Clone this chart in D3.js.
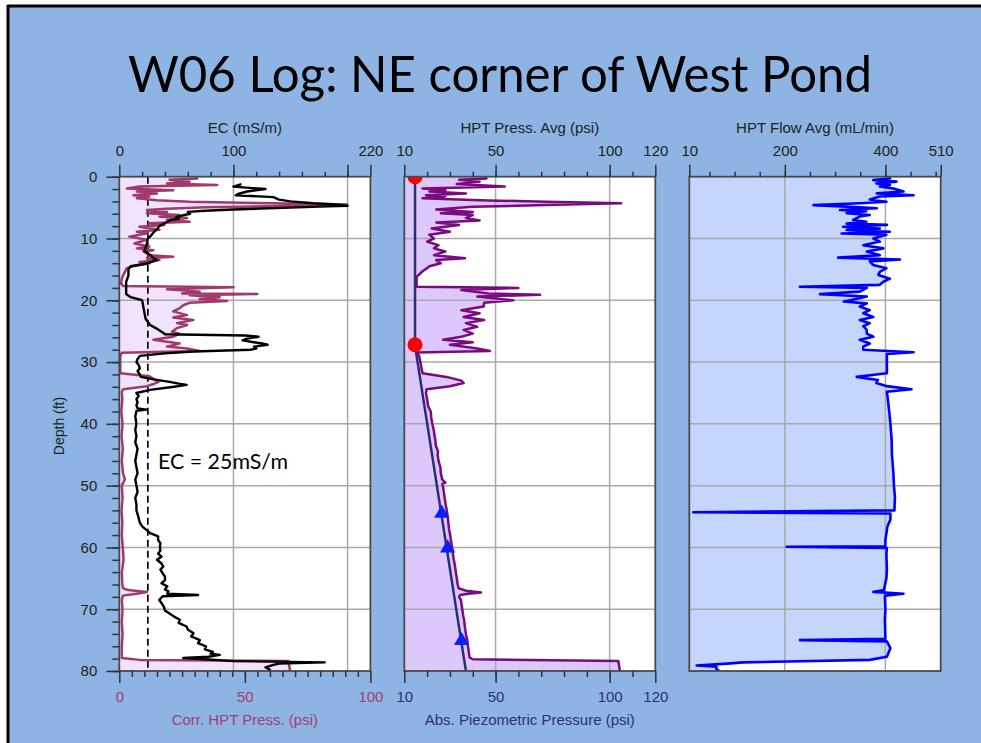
<!DOCTYPE html>
<html><head><meta charset="utf-8">
<script src="https://cdn.jsdelivr.net/npm/d3@7/dist/d3.min.js"></script>
<style>body{margin:0;background:#fff;} svg{display:block}</style>
</head><body><svg id="c" width="981" height="743"></svg>
<script>
// ---------- DATA (depth ft, value) ----------
const titleText = "W06 Log: NE corner of West Pond";
const ecData = [[1.2,107],[1.6,100],[2.0,128],[2.4,112],[2.8,104],[3.0,102],[3.3,135],[3.7,140],[4.0,150],[4.3,170],[4.5,190],[4.7,200],[4.85,175],[5.0,150],[5.3,100],[5.5,75],[5.7,60],[6.0,62],[6.2,57],[6.5,50],[6.8,52],[7.0,45],[7.5,40],[8.0,35],[8.5,33],[9.0,30],[9.5,28],[10,25],[11,24],[12,22],[12.8,28],[13.2,30],[13.5,33],[14,25],[14.5,10],[15,8],[16,8],[17,6],[18,6],[19,6],[19.5,10],[20,20],[21,21],[22,22],[23,23],[24,27],[24.5,32],[25.2,38],[25.5,40],[25.7,110],[25.9,122],[26.2,112],[26.5,108],[26.8,118],[27.0,125],[27.2,130],[27.5,118],[27.8,120],[28.0,115],[28.3,65],[28.6,40],[29.0,18],[29.5,16],[30,15],[30.5,17],[31,18],[31.5,16],[32,18],[32.4,19],[32.8,30],[33.2,44],[33.5,52],[33.7,59],[34.0,48],[34.5,27],[35.0,15],[35.5,17],[36,15],[36.5,16],[37,15],[37.5,16],[37.7,24],[37.9,15],[38.8,14],[40,15],[41,14],[42,15],[43,14],[44,16],[45,15],[46,14],[47,15],[48,16],[49,14],[50,15],[51,16],[52,14],[53,15],[54,15],[55,16.6],[56,18],[56.6,20],[57.2,24],[57.7,27],[58.2,34],[58.8,34],[59.3,36],[59.9,35.6],[60.5,36],[61,34],[61.5,37],[62,33],[62.6,37],[63.1,38.5],[63.6,36],[64.2,38],[64.7,40],[65.3,40],[65.8,37],[66.3,42],[66.8,40],[67.1,43],[67.5,42],[67.7,69],[67.9,38],[68.5,35],[69,37],[69.6,39],[70.2,40],[70.7,44],[71.2,48],[71.7,53],[72.2,52],[72.8,59],[73.3,60],[73.9,65],[74.4,63],[75,70.6],[75.5,69],[76,76],[76.5,75],[76.9,82],[77.2,80],[77.4,88],[77.7,78],[77.9,56],[78.1,75],[78.4,100],[78.6,180],[78.8,140],[79.0,135],[79.4,128],[79.8,132],[80,130]];

const corrData = [[0,30],[0.3,31],[0.5,20],[0.8,28],[1.1,19],[1.35,39],[1.6,8],[1.9,3],[2.2,21.5],[2.4,7],[2.7,15],[3.0,5.6],[3.2,12],[3.5,7],[3.8,15],[4.05,28],[4.3,61],[4.5,90.7],[4.7,72],[4.95,35],[5.2,19],[5.4,11],[5.7,19],[5.9,11],[6.2,24],[6.5,16],[6.7,27],[7.0,19],[7.3,28],[7.55,12],[7.8,18],[8.1,8],[8.6,16],[8.9,7],[9.2,11],[9.7,4],[10.2,11],[10.8,6],[11.3,12],[11.6,7],[11.9,13.6],[12.1,9.6],[12.7,12],[12.95,21.5],[13.2,11],[13.5,16],[13.8,8],[14.0,12],[14.5,5.5],[14.8,3],[15.9,1.6],[16.5,1],[17.3,0.7],[17.7,1.6],[17.9,45.5],[18.2,19],[18.6,32],[18.9,25],[19.0,55],[19.2,28],[19.5,40],[19.8,32],[20.1,43],[20.4,28],[20.8,25.5],[21.3,24],[21.8,21.5],[22.4,27],[22.8,21.5],[23.2,29.5],[23.7,23],[24.0,27],[24.5,23],[25.1,21],[25.4,24],[25.9,21.5],[26.4,13.6],[27.0,24],[27.5,19],[27.8,27],[28.2,32],[28.5,1],[29,0.4],[31.8,0.4],[32.3,12],[32.7,13.6],[33.2,15.6],[33.5,14],[33.9,11],[34.4,1.6],[34.8,1],[36,1.2],[38,0.8],[40,1.3],[42,0.9],[44,1.4],[46,1],[48,1.5],[49,2.2],[50,1],[52,1.3],[54,0.9],[56,1.2],[58,1],[60,1.4],[62,1.7],[64,1],[66,1.2],[66.6,1.5],[66.9,3.6],[67.2,11],[67.5,7],[67.8,1.5],[68.5,1],[70,1.3],[72,1],[74,1.3],[76,1],[77.9,1],[78.2,8],[78.4,67.4],[80,68]];

const pressData = [[0,45],[0.3,46],[0.5,34],[0.8,43],[1.2,33],[1.6,54],[1.9,18],[2.2,28],[2.4,21],[2.7,37],[3.0,19.5],[3.2,28],[3.5,18],[3.8,43],[4.05,72],[4.3,105],[4.6,72],[4.85,40],[5.3,24],[5.7,40],[5.9,26],[6.2,40],[6.7,37],[7.1,43],[7.4,24],[7.8,34],[8.4,22],[8.9,30],[9.4,21],[10.0,23],[10.5,20],[11.1,25],[11.6,23],[12.1,28],[12.7,23],[13.2,36.6],[13.5,24],[14.0,26],[14.5,21],[14.8,20],[15.3,18],[16.2,15.4],[17.8,15.4],[18.0,60],[18.35,35],[18.9,47],[19.1,69.5],[19.4,42],[20.0,57.8],[20.4,45],[21.0,44.8],[21.6,35],[22.1,43],[22.7,36],[23.2,45],[23.7,37],[24.3,42],[24.8,36],[25.4,40],[25.9,35],[26.4,27],[26.8,40],[27.2,30],[27.8,42],[28.2,47.5],[28.45,15.6],[29,16.5],[31.8,18],[32.4,28.5],[33.0,35],[33.4,36],[33.9,30],[34.4,19.8],[35,19.5],[36,20],[37.2,20.5],[38,21.6],[39,21.8],[40,22.3],[41,22.9],[42,23.3],[42.6,23.6],[43.5,23.8],[44.5,24.8],[45,24.6],[46,25],[47,25.8],[48,26],[49,26.6],[49.5,28],[49.7,26.7],[50,26.9],[51,27.3],[52,27.7],[53,28.1],[54,28.6],[55,29],[56,29.3],[57,29.6],[58,30.1],[59,30.5],[60,30.9],[61,31.3],[62,31.7],[63,32.2],[64,32.6],[65,33],[66,33.4],[66.6,33.8],[67,37],[67.3,43.6],[67.5,38],[67.7,34.5],[68,34],[68.5,34.8],[69,35],[70,35.4],[71,35.8],[72,36.3],[73,36.6],[74,37],[75,37.6],[76,37.9],[77,38.3],[77.8,38.6],[78.1,40],[78.4,103.8],[80,104.5]];

const hydroData = [[0,14.7],[27.4,14.7],[80,37.0]];
const waterTable = [[0,14.7],[27.2,14.7]];
const dissipation = [[54.5,26.4],[60.1,29.0],[75.1,35.1]];

const flowData = [[0,405],[0.3,409],[0.55,376],[0.8,422],[1.1,382],[1.35,409],[1.6,389],[1.9,416],[2.4,436],[2.7,383],[3.0,456],[3.2,389],[3.7,369],[4.05,402],[4.3,349],[4.6,257],[4.85,323],[5.1,383],[5.4,310],[5.6,362],[5.9,323],[6.2,369],[6.45,349],[6.7,343],[7.0,336],[7.3,362],[7.6,323],[7.8,403],[8.1,316],[8.4,389],[8.6,323],[8.9,409],[9.2,313],[9.4,402],[10,376],[10.5,389],[11.1,356],[11.6,396],[12.1,363],[12.7,389],[13.1,306],[13.4,429],[13.7,369],[14.3,376],[14.8,402],[15.4,389],[15.9,386],[16.5,409],[17.0,396],[17.5,389],[17.8,230],[18.0,363],[18.6,349],[19.0,270],[19.4,363],[20.0,330],[20.2,317],[20.5,363],[21.0,349],[21.6,369],[22.1,356],[22.7,376],[23.2,349],[23.7,369],[24.2,356],[24.8,363],[25.4,363],[25.9,376],[26.4,349],[27.0,369],[27.5,356],[28.0,356],[28.4,456],[28.7,403],[29.1,403],[31.8,403],[32.4,343],[32.9,385],[33.4,382],[33.9,403],[34.4,452],[34.8,403],[36.1,405],[38.3,408],[40,410],[42.6,412.5],[45,413],[48,416],[50,417],[51.8,419],[54.0,418],[54.3,18],[54.5,410],[55.5,410],[56.6,404],[57.2,403],[58.8,400],[59.8,400],[59.9,203.6],[60.1,403],[61,402],[63.6,403],[65,402],[66.9,397],[67.2,376],[67.5,436],[67.8,399],[70,400],[71.7,399],[74.8,400],[75,230],[75.2,403],[76.3,410],[77.7,403],[78.2,369],[78.6,117],[78.8,85],[79.1,24.6],[79.3,64],[79.7,64],[80,70]];

const ecLimit = 25;
const depthMajor = [0,10,20,30,40,50,60,70,80];
const ecTopLabels = [0,100,220];
const pressTopLabels = [10,50,100,120];
const flowTopLabels = [10,200,400,510];
const corrBottomLabels = [0,50,100];
const absBottomLabels = [10,50,100,120];

// ---------- SCALES ----------
const Y0 = 176.7, Y1 = 671;
const y = d3.scaleLinear().domain([0,80]).range([Y0,Y1]);
const xEC = d3.scaleLinear().domain([0,220]).range([119.3,370.4]);
const xCorr = d3.scaleLinear().domain([0,100]).range([119.3,370.4]);
const xP = d3.scaleLinear().domain([10,120]).range([404.3,655.3]);
const xF = d3.scaleLinear().domain([10,510]).range([689.3,940.7]);

const svg = d3.select("#c");
const FONT = "'Liberation Sans', Arial, sans-serif";
const FS = 15;
svg.append("rect").attr("width",981).attr("height",743).attr("fill","#fff");
svg.append("rect").attr("x",8).attr("y",6).attr("width",973).attr("height",737).attr("fill","#8EB4E3");
svg.append("line").attr("x1",7).attr("x2",981).attr("y1",6).attr("y2",6).attr("stroke","#000").attr("stroke-width",3);
svg.append("line").attr("x1",8).attr("x2",8).attr("y1",5).attr("y2",743).attr("stroke","#000").attr("stroke-width",3);

svg.append("text").attr("x",500).attr("y",92).attr("text-anchor","middle")
  .attr("font-family","Lato, 'Open Sans', sans-serif").attr("font-size",50)
  .attr("textLength",744).attr("lengthAdjust","spacingAndGlyphs").attr("fill","#000").text(titleText);

const defs = svg.append("defs");
function panel(id, xs){
  const [a,b] = xs.range();
  defs.append("clipPath").attr("id",id).append("rect").attr("x",a).attr("y",Y0).attr("width",b-a).attr("height",Y1-Y0);
  svg.append("rect").attr("x",a).attr("y",Y0).attr("width",b-a).attr("height",Y1-Y0).attr("fill","#fff");
  return svg.append("g").attr("clip-path",`url(#${id})`);
}
function grid(g, xs, vGrid){
  const [a,b] = xs.range();
  g.selectAll(null).data([10,20,30,40,50,60,70]).join("line")
    .attr("x1",a).attr("x2",b).attr("y1",d=>y(d)).attr("y2",d=>y(d))
    .attr("stroke","#A9A9A9").attr("stroke-width",1.5);
  g.selectAll(null).data(vGrid).join("line")
    .attr("x1",d=>xs(d)).attr("x2",d=>xs(d)).attr("y1",Y0).attr("y2",Y1)
    .attr("stroke","#A9A9A9").attr("stroke-width",1.5);
}
function frame(xs){
  const [a,b] = xs.range();
  svg.append("rect").attr("x",a).attr("y",Y0).attr("width",b-a).attr("height",Y1-Y0)
    .attr("fill","none").attr("stroke","#4a4a4a").attr("stroke-width",1.8);
}
const lineOf = xs => d3.line().x(d=>xs(d[1])).y(d=>y(d[0]));
const areaOf = (xs, base) => d3.area().x0(xs(base)).x1(d=>xs(d[1])).y(d=>y(d[0]));

// Panel 1
const g1 = panel("c1", xEC);
g1.append("path").datum(corrData).attr("d",areaOf(xCorr,0)).attr("fill","#F1E3FB");
grid(g1, xEC, [100,200]);
g1.append("line").attr("x1",xEC(ecLimit)).attr("x2",xEC(ecLimit)).attr("y1",Y0).attr("y2",Y1)
  .attr("stroke","#000").attr("stroke-width",1.7).attr("stroke-dasharray","7,4");
g1.append("path").datum(corrData).attr("d",lineOf(xCorr)).attr("fill","none").attr("stroke","#A03A6E").attr("stroke-width",2.5).attr("stroke-linejoin","round");
g1.append("path").datum(ecData).attr("d",lineOf(xEC)).attr("fill","none").attr("stroke","#000").attr("stroke-width",2.4).attr("stroke-linejoin","round");
frame(xEC);

// Panel 2
const g2 = panel("c2", xP);
g2.append("path").datum(pressData).attr("d",areaOf(xP,10)).attr("fill","#DCC8FA");
grid(g2, xP, [50,100]);
g2.append("path").datum(pressData).attr("d",lineOf(xP)).attr("fill","none").attr("stroke","#7A0A80").attr("stroke-width",2.5).attr("stroke-linejoin","round");
g2.append("path").datum(hydroData).attr("d",lineOf(xP)).attr("fill","none").attr("stroke","#2C2C78").attr("stroke-width",2.5);
g2.selectAll(null).data(waterTable).join("circle").attr("cx",d=>xP(d[1])).attr("cy",d=>y(d[0])).attr("r",7.5).attr("fill","#FF0000");
g2.selectAll(null).data(dissipation).join("path").attr("d",d3.symbol(d3.symbolTriangle,100))
  .attr("transform",d=>`translate(${xP(d[1])},${y(d[0])})`).attr("fill","#0A1EFF");
frame(xP);

// Panel 3
const g3 = panel("c3", xF);
g3.append("path").datum(flowData).attr("d",areaOf(xF,10)).attr("fill","#C6D5FC");
grid(g3, xF, [200,400]);
g3.append("path").datum(flowData).attr("d",lineOf(xF)).attr("fill","none").attr("stroke","#0000FF").attr("stroke-width",2.6).attr("stroke-linejoin","round");
frame(xF);

// ---------- AXES ----------
function styleAxis(g, color){
  g.select(".domain").remove();
  g.selectAll(".tick line").attr("stroke","#333").attr("stroke-width",1.5);
  g.selectAll("text").attr("font-family",FONT).attr("font-size",FS).attr("fill",color);
}
function topAxis(xs, minor, major, labels){
  const gm = svg.append("g").attr("transform",`translate(0,${Y0})`)
    .call(d3.axisTop(xs).tickValues(minor).tickSize(5).tickFormat(""));
  styleAxis(gm,"#222");
  const gM = svg.append("g").attr("transform",`translate(0,${Y0})`)
    .call(d3.axisTop(xs).tickValues(major).tickSize(12).tickPadding(9).tickFormat(d=>labels.includes(d)?d:""));
  styleAxis(gM,"#222");
}
function bottomAxis(xs, minor, major, color){
  const gm = svg.append("g").attr("transform",`translate(0,${Y1})`)
    .call(d3.axisBottom(xs).tickValues(minor).tickSize(6).tickFormat(""));
  styleAxis(gm,color);
  const gM = svg.append("g").attr("transform",`translate(0,${Y1})`)
    .call(d3.axisBottom(xs).tickValues(major).tickSize(12).tickPadding(8));
  styleAxis(gM,color);
}
topAxis(xEC, d3.range(20,220,20), [0,100,200,220], ecTopLabels);
topAxis(xP, d3.range(20,120,10), pressTopLabels, pressTopLabels);
topAxis(xF, d3.range(50,510,50), flowTopLabels, flowTopLabels);
bottomAxis(xCorr, d3.range(5,100,5), corrBottomLabels, "#A0406E");
bottomAxis(xP, d3.range(20,120,10), absBottomLabels, "#2E2E7A");

const ym = svg.append("g").attr("transform",`translate(${xEC(0)},0)`)
  .call(d3.axisLeft(y).tickValues(d3.range(0,81,2)).tickSize(7).tickFormat(""));
styleAxis(ym,"#222");
const yM = svg.append("g").attr("transform",`translate(${xEC(0)},0)`)
  .call(d3.axisLeft(y).tickValues(depthMajor).tickSize(13).tickPadding(9));
styleAxis(yM,"#222");

// titles
function label(x,yy,t,color,rot,fs){
  const el = svg.append("text").attr("x",x).attr("y",yy).attr("text-anchor","middle")
    .attr("font-family",FONT).attr("font-size",fs||FS).attr("fill",color).text(t);
  if(rot) el.attr("transform",`rotate(-90,${x},${yy})`);
}
label((xEC.range()[0]+xEC.range()[1])/2, 133, "EC (mS/m)", "#222");
label((xP.range()[0]+xP.range()[1])/2, 133, "HPT Press. Avg (psi)", "#222");
label((xF.range()[0]+xF.range()[1])/2, 133, "HPT Flow Avg (mL/min)", "#222");
label((xEC.range()[0]+xEC.range()[1])/2, 725, "Corr. HPT Press. (psi)", "#A0406E");
label((xP.range()[0]+xP.range()[1])/2, 725, "Abs. Piezometric Pressure (psi)", "#2E2E7A");
label(64, 426, "Depth (ft)", "#222", true, 14);

svg.append("text").attr("x",158).attr("y",469).attr("font-family","Lato, 'Open Sans', sans-serif")
  .attr("font-size",21).attr("textLength",130).attr("lengthAdjust","spacingAndGlyphs").attr("fill","#000").text("EC = 25mS/m");
</script></body></html>
